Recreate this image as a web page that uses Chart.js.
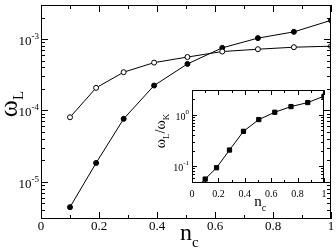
<!DOCTYPE html>
<html>
<head>
<meta charset="utf-8">
<script src="https://cdn.jsdelivr.net/npm/chart.js@4.4.1/dist/chart.umd.min.js"></script>
<style>
  body { margin: 0; background: #fff; }
  #wrap { position: relative; width: 336px; height: 249px; }
  #main { position: absolute; left: 0; top: 0; }
  #inset { position: absolute; left: 150px; top: 80px; }
</style>
</head>
<body>
<div id="wrap">
  <canvas id="main" width="336" height="249"></canvas>
  <canvas id="inset" width="186" height="135"></canvas>
</div>
<script>
// main panel data
const nc = [0.1, 0.19, 0.285, 0.39, 0.505, 0.625, 0.748, 0.872, 1.0];
const omegaOpen = [8.0e-5, 2.07e-4, 3.43e-4, 4.67e-4, 5.59e-4, 6.68e-4, 7.2e-4, 7.68e-4, 7.94e-4];
const omegaFilled = [4.4e-6, 1.83e-5, 7.6e-5, 2.23e-4, 4.48e-4, 7.52e-4, 1.03e-3, 1.26e-3, 1.83e-3];

// inset data (first point lies below the visible range)
const ncInset = [0.05, 0.1, 0.186, 0.284, 0.39, 0.506, 0.627, 0.75, 0.877, 1.0];
const ratio = [0.042, 0.056, 0.093, 0.205, 0.473, 0.80, 1.11, 1.43, 1.71, 2.27];

// tick labels
const xTicks = [0, 0.2, 0.4, 0.6, 0.8, 1];
const xLabels = ['0', '0.2', '0.4', '0.6', '0.8', '1'];
const mainYTicks = [1e-3, 1e-4, 1e-5];
const mainYExp = ['-3', '-4', '-5'];
const insetYTicks = [1, 0.1];
const insetYExp = ['0', '-1'];

const SERIF = '"Liberation Serif", "DejaVu Serif", serif';

function logMinors(min, max) {
    const out = [];
    for (let e = Math.floor(Math.log10(min)); e <= Math.ceil(Math.log10(max)); e++) {
        for (let m = 2; m <= 9; m++) {
            const v = m * Math.pow(10, e);
            if (v > min && v < max) out.push(v);
        }
    }
    return out;
}

function toPoints(xs, ys) {
    return xs.map((x, i) => ({ x: x, y: ys[i] }));
}

// frame, inward ticks on all sides, labels
function framePlugin(cfg) {
    return {
        id: 'frame',
        beforeDatasetsDraw(chart) {
            const ctx = chart.ctx, a = chart.chartArea;
            if (cfg.fill) {
                ctx.save();
                ctx.fillStyle = '#fff';
                ctx.fillRect(a.left, a.top, a.right - a.left, a.bottom - a.top);
                ctx.restore();
            }
        },
        afterDraw(chart) {
            const ctx = chart.ctx, a = chart.chartArea;
            const xs = chart.scales.x, ys = chart.scales.y;
            ctx.save();
            ctx.strokeStyle = '#000';
            ctx.lineWidth = 1;
            ctx.strokeRect(a.left + 0.5, a.top + 0.5, a.right - a.left - 1, a.bottom - a.top - 1);

            ctx.beginPath();
            const xt = (v, len) => {
                const px = Math.round(xs.getPixelForValue(v)) + 0.5;
                ctx.moveTo(px, a.bottom); ctx.lineTo(px, a.bottom - len);
                ctx.moveTo(px, a.top); ctx.lineTo(px, a.top + len);
            };
            const yt = (v, len) => {
                const py = Math.round(ys.getPixelForValue(v)) + 0.5;
                ctx.moveTo(a.left, py); ctx.lineTo(a.left + len, py);
                ctx.moveTo(a.right, py); ctx.lineTo(a.right - len, py);
            };
            xTicks.forEach(v => xt(v, cfg.major));
            [0.1, 0.3, 0.5, 0.7, 0.9].forEach(v => xt(v, cfg.minor));
            cfg.yTicks.forEach(v => yt(v, cfg.major));
            logMinors(ys.min, ys.max).forEach(v => yt(v, cfg.minor));
            ctx.stroke();

            ctx.fillStyle = '#000';
            // x tick labels
            ctx.font = cfg.tickFont + 'px ' + SERIF;
            ctx.textAlign = 'center';
            ctx.textBaseline = 'middle';
            xTicks.forEach((v, i) => {
                ctx.fillText(xLabels[i], xs.getPixelForValue(v), a.bottom + cfg.xLabelGap);
            });
            // y tick labels 10^n
            cfg.yTicks.forEach((v, i) => {
                const py = ys.getPixelForValue(v);
                const right = a.left - cfg.yLabelGap;
                ctx.font = cfg.expFont + 'px ' + SERIF;
                ctx.textAlign = 'right';
                ctx.textBaseline = 'alphabetic';
                const ew = ctx.measureText(cfg.yExp[i]).width;
                ctx.fillText(cfg.yExp[i], right, py + cfg.expRise);
                ctx.font = cfg.tickFont + 'px ' + SERIF;
                ctx.textBaseline = 'middle';
                ctx.fillText('10', right - ew, py + cfg.baseDrop);
            });

            // x title n_c
            ctx.textAlign = 'left';
            ctx.textBaseline = 'alphabetic';
            ctx.font = cfg.xTitle.size + 'px ' + SERIF;
            const nw = ctx.measureText('n').width;
            const tx = cfg.xTitle.x - nw / 2;
            ctx.fillText('n', tx, cfg.xTitle.y);
            ctx.font = cfg.xTitle.sub + 'px ' + SERIF;
            ctx.fillText('c', tx + nw, cfg.xTitle.y + cfg.xTitle.drop);

            // y title (rotated)
            ctx.translate(cfg.yTitle.x, cfg.yTitle.y);
            ctx.rotate(-Math.PI / 2);
            let w = 0;
            const parts = cfg.yTitle.parts;
            parts.forEach(p => { ctx.font = p.size + 'px ' + SERIF; w += ctx.measureText(p.t).width; });
            let cx = -w / 2;
            parts.forEach(p => {
                ctx.font = p.size + 'px ' + SERIF;
                ctx.fillText(p.t, cx, p.drop || 0);
                cx += ctx.measureText(p.t).width;
            });
            ctx.restore();
        }
    };
}

function lineSet(data, style, fill, radius) {
    return {
        data: data,
        borderColor: '#000',
        borderWidth: 1,
        pointStyle: style,
        pointRadius: radius,
        pointBackgroundColor: fill,
        pointBorderColor: '#000',
        pointBorderWidth: 1,
        tension: 0,
        clip: 0
    };
}

const commonOpts = {
    responsive: false,
    animation: false,
    devicePixelRatio: 1,
    plugins: { legend: { display: false }, tooltip: { enabled: false } },
    events: []
};

new Chart(document.getElementById('main'), {
    type: 'line',
    data: {
        datasets: [
            lineSet(toPoints(nc, omegaOpen), 'circle', '#fff', 2.5),
            lineSet(toPoints(nc, omegaFilled), 'circle', '#000', 2.5)
        ]
    },
    options: Object.assign({}, commonOpts, {
        layout: { padding: { left: 41, right: 2, top: 0, bottom: 30 } },
        scales: {
            x: { type: 'linear', min: 0, max: 1, display: false },
            y: { type: 'logarithmic', min: 3e-6, max: 3e-3, display: false }
        }
    }),
    plugins: [framePlugin({
        major: 7, minor: 4, tickFont: 13, expFont: 9, expRise: 0, baseDrop: 2.5,
        xLabelGap: 8, yLabelGap: 2,
        yTicks: mainYTicks, yExp: mainYExp,
        xTitle: { x: 186, y: 240, size: 24, sub: 15, drop: 7 },
        yTitle: { x: 17, y: 104, parts: [{ t: 'ω', size: 26 }, { t: 'L', size: 15, drop: 6 }] }
    })]
});

new Chart(document.getElementById('inset'), {
    type: 'line',
    data: {
        datasets: [lineSet(toPoints(ncInset, ratio), 'rect', '#000', 3)]
    },
    options: Object.assign({}, commonOpts, {
        layout: { padding: { left: 42, right: 12, top: 10, bottom: 32 } },
        scales: {
            x: { type: 'linear', min: 0, max: 1, display: false },
            y: { type: 'logarithmic', min: 0.047, max: 3, display: false }
        }
    }),
    plugins: [framePlugin({
        fill: true,
        major: 5, minor: 3, tickFont: 10, expFont: 7, expRise: -1, baseDrop: 2.5,
        xLabelGap: 11, yLabelGap: 3,
        yTicks: insetYTicks, yExp: insetYExp,
        xTitle: { x: 108, y: 126, size: 15, sub: 10, drop: 5 },
        yTitle: { x: 15, y: 51, parts: [{ t: 'ω', size: 14 }, { t: 'L', size: 9, drop: 4 }, { t: '/ω', size: 14 }, { t: 'K', size: 9, drop: 4 }] }
    })]
});
</script>
</body>
</html>
